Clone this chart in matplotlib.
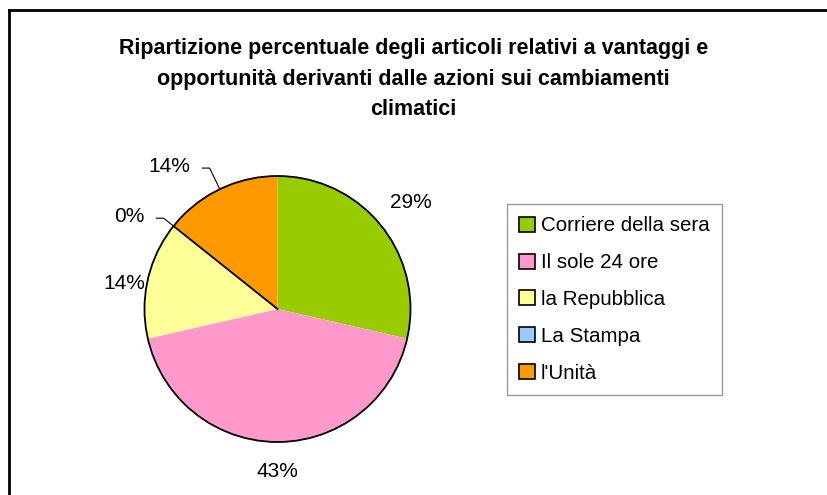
import numpy as np
import matplotlib.pyplot as plt
from matplotlib.lines import Line2D
from matplotlib.patches import Circle

plt.rcParams['font.family'] = ['Liberation Sans', 'DejaVu Sans']

# Data
testate = ['Corriere della sera', 'Il sole 24 ore', 'la Repubblica', 'La Stampa', "l'Unità"]
articoli = [2, 3, 1, 0, 1]
colori = ['#99CC00', '#FF99CC', '#FFFF99', '#99CCFF', '#FF9900']
titolo = ('Ripartizione percentuale degli articoli relativi a vantaggi e\n'
          'opportunità derivanti dalle azioni sui cambiamenti\nclimatici')

W, H = 827, 495
fig = plt.figure(figsize=(W / 100, H / 100), dpi=100)

# chart border (only top and left visible, crop of the original)
fig.add_artist(Line2D([9 / W, 1], [1 - 10 / H] * 2, color='black', lw=2))
fig.add_artist(Line2D([9 / W] * 2, [0, 1 - 10 / H], color='black', lw=2))

fig.text(0.5, 1 - 38 / H, titolo, ha='center', va='top', fontsize=15.5,
         fontweight='bold', linespacing=1.6)

# pie axes: centre (277.5, 309) px, radius 133 px
cx, cy, r = 277.5, 309, 133
ax = fig.add_axes([(cx - r) / W, (H - cy - r) / H, 2 * r / W, 2 * r / H])

wedges, _ = ax.pie(articoli, colors=colori, startangle=90, counterclock=False,
                   radius=1, wedgeprops=dict(linewidth=0))
ax.set_xlim(-1, 1)
ax.set_ylim(-1, 1)
ax.axis('off')
ax.add_patch(Circle((0, 0), 1, fill=False, ec='black', lw=1.3, zorder=5, clip_on=False))

tot = sum(articoli)
# label placement: plain distance (with small vertical nudge) or leader elbow distance
dist = [1.28, 1.225, 1.18, None, None]
nudge = [0, 0, -0.07, 0, 0]
elbow = [None, None, None, 1.095, 1.176]
for i, w in enumerate(wedges):
    mid = np.deg2rad((w.theta1 + w.theta2) / 2)
    pct = '%d%%' % round(100 * articoli[i] / tot)
    if dist[i] is not None:
        ax.text(dist[i] * np.cos(mid), dist[i] * np.sin(mid) + nudge[i], pct,
                ha='center', va='center', fontsize=15, clip_on=False)
    else:
        if articoli[i] == 0:
            ax.plot([0, np.cos(mid)], [0, np.sin(mid)], color='black', lw=1.3, zorder=6)
        x0, y0 = np.cos(mid), np.sin(mid)
        x1, y1 = elbow[i] * np.cos(mid), elbow[i] * np.sin(mid)
        x2 = x1 - 0.055
        ax.plot([x0, x1, x2], [y0, y1, y1], color='black', lw=0.8, clip_on=False)
        ax.text(x2 - 0.09, y1 + 0.015, pct, ha='right', va='center', fontsize=15,
                clip_on=False)

handles = [plt.Rectangle((0, 0), 1, 1, fc=c, ec='black', lw=1.2) for c in colori]
leg = fig.legend(handles, testate, loc='upper left',
                 bbox_to_anchor=(507 / W, 1 - 204 / H), fontsize=14.8,
                 frameon=True, fancybox=False, edgecolor='#808080',
                 handlelength=0.75, handleheight=0.75, handletextpad=0.3,
                 labelspacing=0.87, borderpad=0.6, borderaxespad=0)
leg.get_frame().set_linewidth(1)

fig.savefig('out.png', dpi=100, facecolor='white')
